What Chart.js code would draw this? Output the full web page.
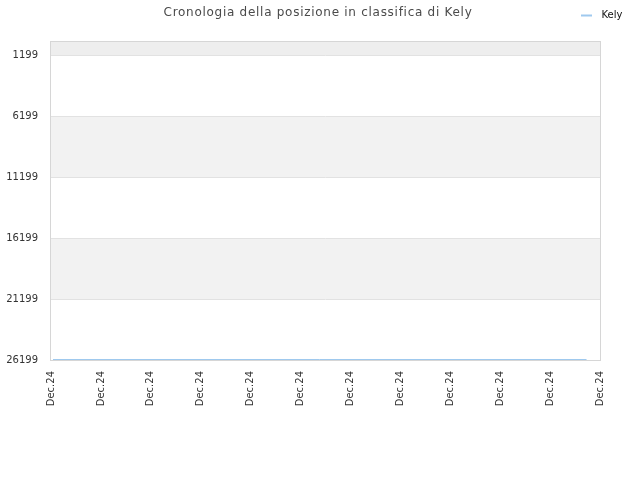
<!DOCTYPE html>
<html>
<head>
<meta charset="utf-8">
<script src="https://cdn.jsdelivr.net/npm/chart.js@4/dist/chart.umd.min.js"></script>
<style>
html,body{margin:0;padding:0;background:#fff;}
#wrap{width:640px;height:480px;}
</style>
</head>
<body>
<div id="wrap"><canvas id="c" width="640" height="480"></canvas></div>
<script>
const chartTitle = "Cronologia della posizione in classifica di Kely";
const seriesName = "Kely";
const xTickLabels = ["Dec.24","Dec.24","Dec.24","Dec.24","Dec.24","Dec.24","Dec.24","Dec.24","Dec.24","Dec.24","Dec.24","Dec.24"];
const xPositions = [0.04, 10.73];
const rankValues = [26158, 26158];
const yTickValues = [1199, 6199, 11199, 16199, 21199, 26199];
const yMin = 0;
const yMax = 26199;

const FONT = "'DejaVu Sans', sans-serif";
const LINE_COLOR = "#9fc9ee";

const bandPlugin = {
  id: 'bands',
  beforeDraw(chart) {
    const {ctx, chartArea: a, scales: {y}} = chart;
    ctx.save();
    const edges = [yMin].concat(yTickValues);
    for (let i = 0; i < edges.length - 1; i++) {
      const y1 = y.getPixelForValue(edges[i]);
      const y2 = y.getPixelForValue(edges[i + 1]);
      let color = null;
      if (i === 0) color = '#eeeeee';
      else if (i % 2 === 0) color = '#f2f2f2';
      if (color) {
        ctx.fillStyle = color;
        ctx.fillRect(a.left, Math.min(y1, y2), a.right - a.left, Math.abs(y2 - y1));
      }
    }
    ctx.restore();
  },
  beforeDatasetsDraw(chart) {
    const {ctx, chartArea: a} = chart;
    ctx.save();
    ctx.strokeStyle = '#d6d6d6';
    ctx.lineWidth = 1;
    ctx.strokeRect(Math.round(a.left) - 0.5, Math.round(a.top) + 0.5, Math.round(a.right - a.left) + 1, Math.round(a.bottom - a.top));
    ctx.restore();
  },
  afterDraw(chart) {
    const {ctx} = chart;
    ctx.save();
    ctx.font = "12px " + FONT;
    if ('letterSpacing' in ctx) ctx.letterSpacing = '0.72px';
    ctx.fillStyle = '#4a4a4a';
    ctx.textAlign = 'center';
    ctx.textBaseline = 'middle';
    ctx.fillText(chartTitle, 318, 13);
    if ('letterSpacing' in ctx) ctx.letterSpacing = '0px';
    // legend
    ctx.strokeStyle = LINE_COLOR;
    ctx.lineWidth = 2;
    ctx.beginPath();
    ctx.moveTo(581, 15.5);
    ctx.lineTo(592, 15.5);
    ctx.stroke();
    ctx.font = "10px " + FONT;
    ctx.fillStyle = '#111111';
    ctx.textAlign = 'left';
    ctx.fillText(chart.data.datasets[0].label, 601.5, 15);
    ctx.restore();
  }
};

new Chart(document.getElementById('c'), {
  type: 'line',
  data: {
    datasets: [{
      label: seriesName,
      data: xPositions.map((x, i) => ({x: x, y: rankValues[i]})),
      borderColor: LINE_COLOR,
      backgroundColor: LINE_COLOR,
      borderWidth: 1,
      pointRadius: 0,
      fill: false,
      tension: 0
    }]
  },
  options: {
    responsive: false,
    animation: false,
    devicePixelRatio: 1,
    layout: {padding: {top: 41, right: 40, left: 0, bottom: 0}},
    plugins: {
      legend: {display: false},
      title: {display: false},
      tooltip: {enabled: false}
    },
    scales: {
      x: {
        type: 'linear',
        min: 0,
        max: xTickLabels.length - 1,
        afterBuildTicks(s) { s.ticks = xTickLabels.map((_, i) => ({value: i})); },
        afterFit(s) { s.height = 120; },
        grid: {display: false, drawTicks: false},
        border: {display: false},
        ticks: {
          autoSkip: false,
          minRotation: 90,
          maxRotation: 90,
          padding: 11,
          color: '#333333',
          font: {family: FONT, size: 10},
          callback: (v, i) => xTickLabels[i]
        }
      },
      y: {
        type: 'linear',
        reverse: true,
        min: yMin,
        max: yMax,
        afterBuildTicks(s) { s.ticks = yTickValues.map(v => ({value: v})); },
        afterFit(s) { s.width = 51; },
        grid: {color: '#e2e2e2', drawTicks: false, lineWidth: 1},
        border: {display: false},
        ticks: {
          padding: 13,
          color: '#333333',
          font: {family: FONT, size: 10},
          callback: v => String(v)
        }
      }
    }
  },
  plugins: [bandPlugin]
});
</script>
</body>
</html>
